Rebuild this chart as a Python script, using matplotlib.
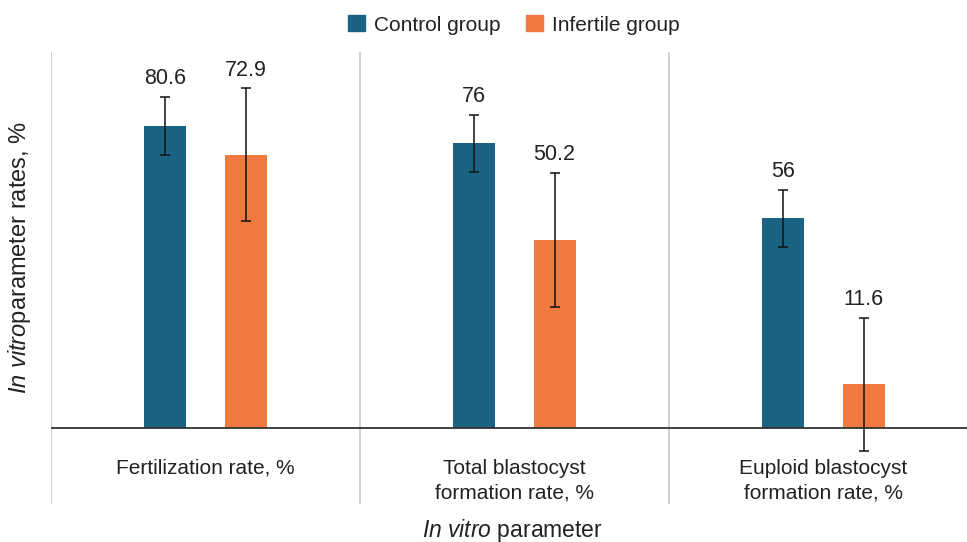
import matplotlib
matplotlib.use("Agg")
import matplotlib.pyplot as plt
import numpy as np
from matplotlib.patches import Patch

plt.rcParams['font.family'] = ['Liberation Sans', 'DejaVu Sans']
plt.rcParams['mathtext.fontset'] = 'custom'
plt.rcParams['mathtext.it'] = 'Liberation Sans:italic'
plt.rcParams['mathtext.rm'] = 'Liberation Sans'

categories = ["Fertilization rate, %", "Total blastocyst\nformation rate, %", "Euploid blastocyst\nformation rate, %"]
series_names = ["Control group", "Infertile group"]
control_values = [80.6, 76, 56]
infertile_values = [72.9, 50.2, 11.6]
control_err = [7.7, 7.6, 7.6]
infertile_err = [17.7, 17.9, 17.7]
value_labels_control = ["80.6", "76", "56"]
value_labels_infertile = ["72.9", "50.2", "11.6"]

colors = ["#1b6383", "#ef7a40"]
text_color = "#222222"

fig = plt.figure(figsize=(9.67, 5.42), dpi=100)
ax = fig.add_axes([51/967, 1-504/542, 1-51/967, (504-52)/542])

x = np.arange(len(categories))
off = 0.13
w = 0.136
for vals, errs, labs, sign, c in [(control_values, control_err, value_labels_control, -1, colors[0]),
                                  (infertile_values, infertile_err, value_labels_infertile, 1, colors[1])]:
    xs = x + sign * off
    ax.bar(xs, vals, width=w, color=c, zorder=2)
    ax.errorbar(xs, vals, yerr=errs, fmt='none', ecolor='#111111', elinewidth=1.1,
                capsize=3.6, capthick=1.1, zorder=3)
    for xi, v, e, l in zip(xs, vals, errs, labs):
        ax.annotate(l, (xi, v + e), xytext=(0, 5.5), textcoords='offset points',
                    ha='center', va='bottom', fontsize=15.5, color=text_color)

ax.set_xlim(-0.5, -0.5 + 916/309)
ax.set_ylim(-20.3, 100.3)
ax.axhline(0, color='#333333', lw=1.3, zorder=4)
for xv in [-0.5, 0.5, 1.5]:
    ax.axvline(xv, color='#c4c4c4', lw=1.1, zorder=1)
for s in ax.spines.values():
    s.set_visible(False)
ax.set_xticks([])
ax.set_yticks([])

for xi, cat in zip(x, categories):
    ax.text(xi, -8.2, cat, ha='center', va='top', fontsize=15, color=text_color,
            linespacing=1.4)

fig.text(512/967, 1-530/542, r"$\it{In\ vitro}$ parameter", ha='center', va='center',
         fontsize=16.5, color=text_color)
fig.text(20/967, 1-257/542, r"$\it{In\ vitro}$parameter rates, %", ha='center', va='center',
         rotation=90, fontsize=17, color=text_color)

handles = [Patch(color=colors[0]), Patch(color=colors[1])]
fig.legend(handles, series_names, loc='center', bbox_to_anchor=(514/967, 1-25/542), ncol=2,
           frameon=False, fontsize=15, handlelength=0.8, handleheight=0.8,
           handletextpad=0.45, columnspacing=1.2, labelcolor=text_color)

fig.savefig("out.png", dpi=100)
